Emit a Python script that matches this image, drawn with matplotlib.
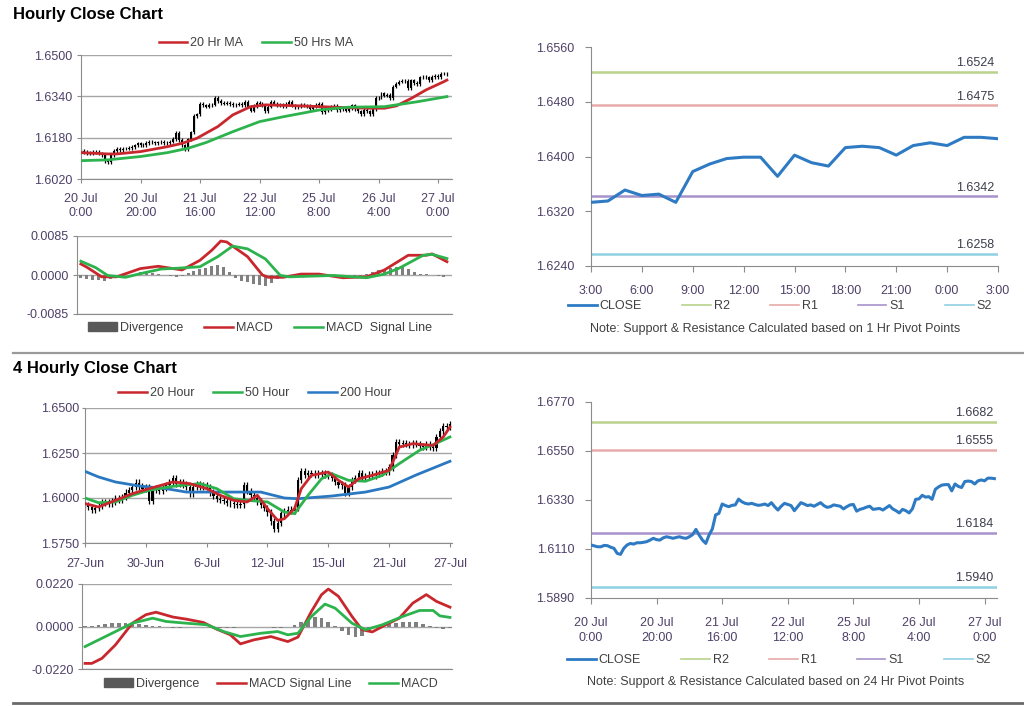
import numpy as np
import matplotlib
matplotlib.use("Agg")
import matplotlib.pyplot as plt
from matplotlib.lines import Line2D
from matplotlib.patches import Patch

plt.rcParams.update({"font.family": "Liberation Sans", "font.size": 9})

# ---------------- data ----------------
# hourly closes, 20 Jul 0:00 -> 27 Jul 3:00 (trading hours only)
hourly_close = [
    1.6128, 1.6124, 1.6120, 1.6120, 1.6126, 1.6125, 1.6118, 1.6113, 1.6090, 1.6086,
    1.6113, 1.6128, 1.6135, 1.6132, 1.6138, 1.6138, 1.6140, 1.6143, 1.6150, 1.6158,
    1.6152, 1.6150, 1.6160, 1.6165, 1.6162, 1.6158, 1.6162, 1.6165, 1.6160, 1.6158,
    1.6165, 1.6175, 1.6198, 1.6172, 1.6150, 1.6135, 1.6173, 1.6200, 1.6263, 1.6270,
    1.6312, 1.6305, 1.6300, 1.6306, 1.6308, 1.6334, 1.6322, 1.6315, 1.6312, 1.6315,
    1.6310, 1.6306, 1.6308, 1.6312, 1.6305, 1.6318, 1.6300, 1.6285, 1.6302, 1.6315,
    1.6310, 1.6305, 1.6282, 1.6300, 1.6318, 1.6312, 1.6305, 1.6308, 1.6302, 1.6310,
    1.6318, 1.6305, 1.6297, 1.6300, 1.6308, 1.6305, 1.6302, 1.6290, 1.6300, 1.6308,
    1.6310, 1.6280, 1.6288, 1.6292, 1.6298, 1.6302, 1.6288, 1.6290, 1.6292, 1.6285,
    1.6295, 1.6305, 1.6290, 1.6282, 1.6272, 1.6288, 1.6282, 1.6272, 1.6290, 1.6333,
    1.6335, 1.6351, 1.6343, 1.6345, 1.6333, 1.6378, 1.6389, 1.6397, 1.6399, 1.6399,
    1.6371, 1.6402, 1.6391, 1.6386, 1.6413, 1.6415, 1.6413, 1.6402, 1.6416, 1.6420,
    1.6416, 1.6428, 1.6428, 1.6426,
]
hourly_ticks = [0, 20, 40, 60, 80, 100, 120]
hourly_labels = ["20 Jul\n0:00", "20 Jul\n20:00", "21 Jul\n16:00", "22 Jul\n12:00",
                 "25 Jul\n8:00", "26 Jul\n4:00", "27 Jul\n0:00"]

ma20_h_bar = [0, 9, 12, 20, 29, 34, 39, 46, 51, 57, 62, 74, 85, 96, 102, 106, 111, 116, 122, 123]
ma20_h = [1.6122, 1.6117, 1.6117, 1.6126, 1.6145, 1.6158, 1.6178, 1.6223, 1.6268, 1.6300,
          1.6307, 1.6303, 1.6298, 1.6294, 1.6294, 1.6303, 1.6332, 1.6365, 1.6397, 1.6403]
ma50_h_bar = [0, 9, 20, 29, 36, 42, 51, 60, 68, 80, 90, 102, 113, 123]
ma50_h = [1.6091, 1.6094, 1.6107, 1.6122, 1.6139, 1.6161, 1.6203, 1.6242, 1.6261, 1.6287,
          1.6298, 1.6300, 1.6319, 1.6339]

macd_h_bar = [0, 2, 7, 12, 20, 26, 34, 40, 44, 47, 49, 56, 61, 63, 68, 74, 80, 88, 96, 102,
              110, 116, 118, 123]
macd_h = [0.0024, 0.0017, -0.0004, -0.0004, 0.0014, 0.0019, 0.0011, 0.0032, 0.0054, 0.0074,
          0.0072, 0.0040, 0.0000, -0.0005, -0.0005, 0.0002, 0.0002, -0.0006, -0.0004, 0.0011,
          0.0043, 0.0043, 0.0046, 0.0029]
signal_h_bar = [0, 5, 9, 15, 20, 27, 33, 40, 46, 51, 56, 62, 67, 70, 85, 96, 102, 107, 115, 118, 123]
signal_h = [0.0030, 0.0016, -0.0001, -0.0005, 0.0003, 0.0013, 0.0015, 0.0018, 0.0040, 0.0063,
            0.0057, 0.0035, -0.0001, -0.0004, -0.0001, -0.0006, 0.0002, 0.0015, 0.0043, 0.0045,
            0.0036]
# divergence, every second hourly bar
div_h = [-0.0006, -0.0008, -0.0010, -0.0011, -0.0012, -0.0008, -0.0004, -0.0002, -0.0001, 0.0000,
         0.0006, 0.0008, 0.0005, 0.0002, 0.0001, -0.0003, -0.0004, -0.0003, 0.0004, 0.0008,
         0.0012, 0.0016, 0.0020, 0.0022, 0.0018, 0.0006, -0.0006, -0.0012, -0.0016, -0.0020,
         -0.0022, -0.0024, -0.0018, -0.0008, -0.0003, 0.0001, 0.0002, 0.0001, 0.0000, -0.0001,
         -0.0001, -0.0002, -0.0003, -0.0002, -0.0002, -0.0003, -0.0003, -0.0002, 0.0002, 0.0006,
         0.0010, 0.0012, 0.0015, 0.0017, 0.0018, 0.0012, 0.0006, 0.0003, 0.0002, 0.0001,
         -0.0003, -0.0005]

# last 24 hours: 1 Hr pivot levels
day_labels = ["3:00", "6:00", "9:00", "12:00", "15:00", "18:00", "21:00", "0:00", "3:00"]
pivot_1h = {"R2": 1.6524, "R1": 1.6475, "S1": 1.6342, "S2": 1.6258}

# 4-hourly closes, 27 Jun -> 27 Jul
four_close = [
    1.5960, 1.5950, 1.5935, 1.5945, 1.5955, 1.5975, 1.5978, 1.5970, 1.5980, 1.5996,
    1.5990, 1.6005, 1.6030, 1.6045, 1.6060, 1.6085, 1.6065, 1.6050,
    1.6060, 1.5985, 1.6045, 1.6055, 1.6040, 1.6055, 1.6070, 1.6085, 1.6110, 1.6080,
    1.6090, 1.6075, 1.6060, 1.6025, 1.6060, 1.6075, 1.6065, 1.6070,
    1.6060, 1.6030, 1.6010, 1.5995, 1.5990, 1.5985, 1.5975, 1.5970, 1.5965, 1.5960,
    1.5965, 1.6070, 1.6040, 1.6015, 1.6000, 1.5980, 1.5960, 1.5945,
    1.5920, 1.5870, 1.5830, 1.5860, 1.5915, 1.5925, 1.5935, 1.5930, 1.5945, 1.6100,
    1.6150, 1.6130, 1.6140, 1.6135, 1.6130, 1.6140, 1.6135, 1.6130,
    1.6125, 1.6110, 1.6090, 1.6075, 1.6070, 1.6030, 1.6060, 1.6100, 1.6110, 1.6140,
    1.6115, 1.6120, 1.6130, 1.6125, 1.6135, 1.6140, 1.6150, 1.6145,
    1.6170, 1.6240, 1.6310, 1.6300, 1.6305, 1.6300, 1.6295, 1.6305, 1.6300, 1.6290,
    1.6285, 1.6300, 1.6285, 1.6280, 1.6340, 1.6370, 1.6400, 1.6395, 1.6410,
]
four_ticks = [0, 18, 36, 54, 72, 90, 108]
four_labels = ["27-Jun", "30-Jun", "6-Jul", "12-Jul", "15-Jul", "21-Jul", "27-Jul"]

ma20_4_bar = [0, 4, 9, 14, 19, 26, 31, 36, 40, 44, 48, 51, 54, 57, 59, 62, 64, 67, 72, 75,
              78, 81, 85, 90, 93, 97, 103, 106, 108]
ma20_4 = [1.5969, 1.5950, 1.5987, 1.6024, 1.6052, 1.6089, 1.6080, 1.6052, 1.6015, 1.5987,
          1.5978, 1.6015, 1.5941, 1.5876, 1.5885, 1.5941, 1.6052, 1.6126, 1.6144, 1.6098,
          1.6061, 1.6107, 1.6126, 1.6154, 1.6283, 1.6302, 1.6292, 1.6339, 1.6394]
ma50_4_bar = [0, 4, 9, 14, 19, 26, 34, 39, 44, 48, 54, 59, 62, 66, 70, 73, 78, 83, 88, 93,
              99, 103, 108]
ma50_4 = [1.6000, 1.5974, 1.5978, 1.6015, 1.6043, 1.6065, 1.6080, 1.6052, 1.5996, 1.5987,
          1.5978, 1.5922, 1.5913, 1.6015, 1.6107, 1.6135, 1.6098, 1.6093, 1.6126, 1.6191,
          1.6265, 1.6296, 1.6339]
ma200_4_bar = [0, 4, 9, 16, 24, 30, 39, 52, 59, 63, 73, 83, 90, 98, 108]
ma200_4 = [1.6148, 1.6117, 1.6089, 1.6067, 1.6052, 1.6033, 1.6033, 1.6033, 1.6000, 1.5996,
           1.6011, 1.6033, 1.6061, 1.6128, 1.6204]

sigline_4_bar = [0, 2, 5, 9, 14, 18, 21, 26, 30, 35, 39, 43, 46, 50, 55, 60, 63, 67, 70, 72,
                 75, 79, 82, 85, 89, 93, 97, 101, 104, 108]
sigline_4 = [-0.0191, -0.0191, -0.0165, -0.0095, 0.0017, 0.0061, 0.0074, 0.0049, 0.0038, 0.0021,
             -0.0014, -0.0043, -0.0090, -0.0069, -0.0052, -0.0078, -0.0055, 0.0078, 0.0165, 0.0194,
             0.0156, 0.0052, -0.0017, -0.0028, 0.0009, 0.0043, 0.0121, 0.0165, 0.0130, 0.0100]
macd_4_bar = [0, 3, 8, 14, 20, 24, 30, 36, 41, 46, 52, 57, 60, 63, 67, 71, 74, 79, 83, 88,
              94, 99, 103, 105, 108]
macd_4 = [-0.0104, -0.0078, -0.0035, 0.0017, 0.0043, 0.0026, 0.0017, 0.0009, -0.0026, -0.0052,
          -0.0035, -0.0026, -0.0043, -0.0035, 0.0052, 0.0116, 0.0095, 0.0017, -0.0017, 0.0009,
          0.0052, 0.0083, 0.0083, 0.0055, 0.0047]
# divergence, every second 4h bar
div_4 = [0.0002, 0.0005, 0.0010, 0.0014, 0.0016, 0.0018, 0.0018, 0.0016, 0.0012,
         0.0008, 0.0005, 0.0002, -0.0003, -0.0006, -0.0006, -0.0005, -0.0004, -0.0003,
         -0.0004, -0.0008, -0.0010, -0.0010, -0.0006, -0.0004, -0.0002, -0.0001, -0.0002,
         -0.0004, -0.0006, -0.0008, -0.0004, 0.0010, 0.0025, 0.0040, 0.0048, 0.0042,
         0.0025, 0.0005, -0.0025, -0.0045, -0.0055, -0.0050, -0.0030, -0.0010, 0.0008,
         0.0015, 0.0020, 0.0022, 0.0025, 0.0022, 0.0015, 0.0005, -0.0008, -0.0012, -0.0010]

pivot_24h = {"R2": 1.6682, "R1": 1.6555, "S1": 1.6184, "S2": 1.5940}

# ---------------- styling ----------------
RED, GREEN, BLUE = "#C8282D", "#2DB34D", "#2A78C2"
CLOSE_C = "#2E7BC4"
LEVEL_C = {"R2": "#B9D28C", "R1": "#E8AAAA", "S1": "#A793CC", "S2": "#8FD0E2"}
AXIS, GRID, TEXT = "#8C8C8C", "#A6A6A6", "#4E4068"

W, H = 1024, 706
fig = plt.figure(figsize=(W / 100, H / 100), dpi=100)


def box(l, t, r, b):
    return fig.add_axes([l / W, 1 - b / H, (r - l) / W, (b - t) / H])


def at(x, y):
    return (x / W, 1 - y / H)


def style(ax, grid=False, ypad=3, xpad=6, ylen=3):
    for s in ("top", "right"):
        ax.spines[s].set_visible(False)
    for s in ("left", "bottom"):
        ax.spines[s].set_color(AXIS)
    ax.tick_params(axis="both", colors=AXIS, labelcolor=TEXT, width=0.8)
    ax.tick_params(axis="y", length=ylen, pad=ypad)
    ax.tick_params(axis="x", length=3, pad=xpad)
    if grid:
        ax.yaxis.grid(True, color=GRID, lw=1)
        ax.set_axisbelow(True)


def candles(ax, close, wick):
    c = np.asarray(close)
    o = np.r_[c[0], c[:-1]]
    lo, hi = np.minimum(o, c), np.maximum(o, c)
    idx = np.arange(len(c))
    ax.vlines(idx, lo - wick, hi + wick, color="black", lw=0.9, zorder=2)
    ax.bar(idx, hi - lo, bottom=lo, width=0.65, color="black", zorder=2)


def legend(handles, labels, xy, colspace=1.5):
    fig.legend(handles, labels, loc="center", bbox_to_anchor=at(*xy), ncol=len(handles),
               frameon=False, handlelength=2.3, handletextpad=0.25, columnspacing=colspace,
               fontsize=9, labelcolor="#404040")


def pivot_panel(ax, x, y, levels, lim, step):
    ax.plot(x, y, color=CLOSE_C, lw=2.2, zorder=3)
    for name, val in levels.items():
        ax.axhline(val, color=LEVEL_C[name], lw=1.8, zorder=2)
        ax.annotate(f"{val:.4f}", xy=(0.99, val), xycoords=("axes fraction", "data"),
                    xytext=(0, 4), textcoords="offset points", ha="right", va="baseline",
                    color="#3D3D4D", fontsize=9)
    ax.set_ylim(*lim)
    ax.set_yticks(np.arange(lim[0], lim[1] + step / 2, step))
    ax.yaxis.set_major_formatter(plt.FormatStrFormatter("%.4f"))


line_h = lambda c, lw=1.8: Line2D([], [], color=c, lw=lw)

# ---------------- titles & separators ----------------
fig.text(*at(13, 15), "Hourly Close Chart", fontsize=12, weight="bold", va="center")
fig.text(*at(13, 368), "4 Hourly Close Chart", fontsize=12, weight="bold", va="center")
fig.add_artist(Line2D([13 / W, 1], [1 - 352.5 / H] * 2, color="#9A9A9A", lw=1.6))
fig.add_artist(Line2D([13 / W, 1], [1 - 703 / H] * 2, color="#6A6A6A", lw=2.0))

# ---------------- hourly price ----------------
ax1 = box(81, 55, 452, 179)
style(ax1, grid=True, xpad=7)
candles(ax1, hourly_close, 0.0007)
ax1.plot(ma20_h_bar, ma20_h, color=RED, lw=2.0, zorder=3)
ax1.plot(ma50_h_bar, ma50_h, color=GREEN, lw=2.0, zorder=3)
ax1.set_xlim(0, 124.7)
ax1.set_ylim(1.6020, 1.6500)
ax1.set_yticks([1.6020, 1.6180, 1.6340, 1.6500])
ax1.yaxis.set_major_formatter(plt.FormatStrFormatter("%.4f"))
ax1.set_xticks(hourly_ticks)
ax1.set_xticklabels(hourly_labels, linespacing=1.25)
legend([line_h(RED), line_h(GREEN)], ["20 Hr MA", "50 Hrs MA"], (256, 43))

# ---------------- hourly MACD ----------------
ax2 = box(77, 236, 452, 314)
style(ax2, grid=True)
ax2.bar(np.arange(len(div_h)) * 2, div_h, width=1.0, color="#808080", zorder=2)
ax2.plot(macd_h_bar, macd_h, color=RED, lw=2.0, zorder=3)
ax2.plot(signal_h_bar, signal_h, color=GREEN, lw=2.0, zorder=3)
ax2.set_xlim(-1.3, 124.7)
ax2.set_ylim(-0.0085, 0.0085)
ax2.set_yticks([-0.0085, 0.0, 0.0085])
ax2.yaxis.set_major_formatter(plt.FormatStrFormatter("%.4f"))
ax2.set_xticks([])
legend([Patch(color="#595959"), line_h(RED), line_h(GREEN)],
       ["Divergence", "MACD", "MACD  Signal Line"], (260, 328), colspace=1.7)

# ---------------- last 24 hours with 1 Hr pivots ----------------
ax3 = box(591, 47, 998, 266)
style(ax3, ypad=8, xpad=10, ylen=4)
last_day = hourly_close[-25:]
pivot_panel(ax3, np.arange(len(last_day)), last_day, pivot_1h, (1.6240, 1.6560), 0.0080)
ax3.set_xlim(0, 24)
ax3.set_xticks(np.arange(0, 25, 3))
ax3.set_xticklabels(day_labels)
ax3.tick_params(axis="x", length=4)
names = ["CLOSE", "R2", "R1", "S1", "S2"]
handles = [line_h(CLOSE_C, 2)] + [line_h(LEVEL_C[n], 1.2) for n in names[1:]]
legend(handles, names, (780, 306), colspace=3.2)
fig.text(*at(775, 329), "Note: Support & Resistance Calculated based on 1 Hr Pivot Points",
         ha="center", va="center", fontsize=9, color="#404040")

# ---------------- 4-hourly price ----------------
ax4 = box(85, 408, 452, 543)
style(ax4, grid=True, ypad=2, ylen=2, xpad=8)
candles(ax4, four_close, 0.0018)
ax4.plot(ma200_4_bar, ma200_4, color=BLUE, lw=2.0, zorder=3)
ax4.plot(ma50_4_bar, ma50_4, color=GREEN, lw=2.0, zorder=3)
ax4.plot(ma20_4_bar, ma20_4, color=RED, lw=2.0, zorder=3)
ax4.set_xlim(0, 108.6)
ax4.set_ylim(1.5750, 1.6500)
ax4.set_yticks([1.5750, 1.6000, 1.6250, 1.6500])
ax4.yaxis.set_major_formatter(plt.FormatStrFormatter("%.4f"))
ax4.set_xticks(four_ticks)
ax4.set_xticklabels(four_labels)
legend([line_h(RED), line_h(GREEN), line_h(BLUE)], ["20 Hour", "50 Hour", "200 Hour"],
       (255, 393), colspace=1.5)

# ---------------- 4-hourly MACD ----------------
ax5 = box(82, 584, 452, 669)
style(ax5, grid=True, ypad=3)
ax5.bar(np.arange(len(div_4)) * 2, div_4, width=1.1, color="#808080", zorder=2)
ax5.plot(sigline_4_bar, sigline_4, color=RED, lw=2.0, zorder=3)
ax5.plot(macd_4_bar, macd_4, color=GREEN, lw=2.0, zorder=3)
ax5.set_xlim(-0.9, 108.6)
ax5.set_ylim(-0.0220, 0.0220)
ax5.set_yticks([-0.0220, 0.0, 0.0220])
ax5.yaxis.set_major_formatter(plt.FormatStrFormatter("%.4f"))
ax5.set_xticks([])
legend([Patch(color="#595959"), line_h(RED), line_h(GREEN)],
       ["Divergence", "MACD Signal Line", "MACD"], (271, 684), colspace=1.4)

# ---------------- hourly with 24 Hr pivots ----------------
ax6 = box(591, 402, 997, 598)
style(ax6, ypad=8, xpad=10, ylen=4)
pivot_panel(ax6, np.arange(len(hourly_close)), hourly_close, pivot_24h, (1.5890, 1.6770), 0.0220)
ax6.set_xlim(0, 123.8)
ax6.set_xticks(hourly_ticks)
ax6.set_xticklabels(hourly_labels, linespacing=1.25)
ax6.tick_params(axis="x", length=4)
legend(handles, names, (779, 660), colspace=3.2)
fig.text(*at(776, 682), "Note: Support & Resistance Calculated based on 24 Hr Pivot Points",
         ha="center", va="center", fontsize=9, color="#404040")

fig.savefig("out.png", dpi=100)
